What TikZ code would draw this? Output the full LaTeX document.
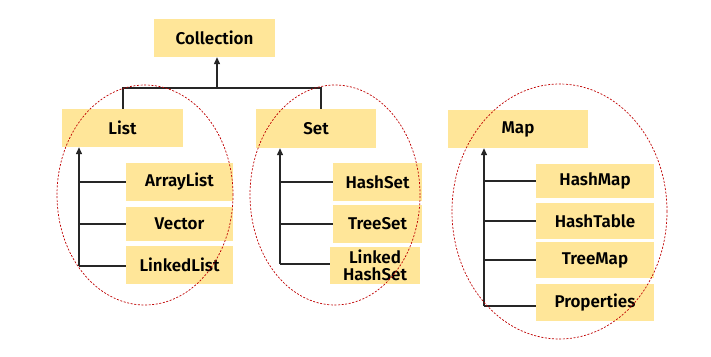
\documentclass[tikz,border=0pt]{standalone}
\usepackage{fontspec}
\setmainfont{Fira Sans}[BoldFont={* SemiBold}]
\usetikzlibrary{arrows.meta}
\definecolor{boxfill}{HTML}{FFE699}
\definecolor{ovalred}{HTML}{C00000}
\begin{document}
\begin{tikzpicture}[x=1pt,y=-1pt,
  box/.style={fill=boxfill,inner sep=0pt,font=\fontsize{17}{18}\selectfont\bfseries,align=center},
  conn/.style={draw=black!85,line width=1.3pt},
  arr/.style={conn,-{Triangle[width=6pt,length=7pt]}},
  oval/.style={draw=ovalred,line width=0.7pt,dash pattern=on 2pt off 1.6pt}]
\useasboundingbox[fill=white] (0,0) rectangle (711,356);
% boxes
\node[box,minimum width=121pt,minimum height=38pt] (col) at (214.5,38) {Collection};
\node[box,minimum width=121pt,minimum height=38pt] (list) at (122.5,128) {List};
\node[box,minimum width=120pt,minimum height=39pt] (set) at (316,128.5) {Set};
\node[box,minimum width=140pt,minimum height=38pt] (map) at (518,129) {Map};
\node[box,minimum width=107pt,minimum height=38pt] (al) at (179.5,182) {ArrayList};
\node[box,minimum width=107pt,minimum height=34pt] (vec) at (179.5,224) {Vector};
\node[box,minimum width=107pt,minimum height=38pt] (ll) at (179.5,265) {LinkedList};
\node[box,minimum width=89pt,minimum height=38pt] (hs) at (377.5,182) {HashSet};
\node[box,minimum width=89pt,minimum height=38pt] (ts) at (377.5,224) {TreeSet};
\node[box,minimum width=90pt,minimum height=37pt,font=\fontsize{17}{17.5}\selectfont\bfseries] (lhs) at (375,265.5) {Linked\\HashSet};
\node[box,minimum width=118pt,minimum height=34pt] (hm) at (595,181) {HashMap};
\node[box,minimum width=118pt,minimum height=36pt] (ht) at (595,221) {HashTable};
\node[box,minimum width=118pt,minimum height=36pt] (tm) at (595,260) {TreeMap};
\node[box,minimum width=118pt,minimum height=37pt] (pr) at (595,302.5) {Properties};
% top tree
\coordinate (cj) at (217,88);
\coordinate (lbar) at (123,88);
\coordinate (rbar) at (321,88);
\draw[arr] (cj) -- (cj |- col.south);
\draw[conn] (list.north -| lbar) -- (lbar) -- (rbar) -- (set.north -| rbar);
% list spine
\coordinate (lb) at (79,266);
\draw[arr] (lb) -- (lb |- list.south);
\draw[conn] (al.west) -- (al.west -| lb);
\draw[conn] (vec.west) -- (vec.west -| lb);
\draw[conn] (ll.west |- lb) -- (lb);
% set spine
\coordinate (sb) at (280,264);
\draw[arr] (sb) -- (sb |- set.south);
\draw[conn] (hs.west) -- (hs.west -| sb);
\draw[conn] (ts.west) -- (ts.west -| sb);
\draw[conn] (lhs.west |- sb) -- (sb);
% map spine
\coordinate (mb) at (484,306);
\draw[arr] (mb) -- (mb |- map.south);
\draw[conn] (hm.west) -- (hm.west -| mb);
\draw[conn] (ht.west) -- (ht.west -| mb);
\draw[conn] (tm.west) -- (tm.west -| mb);
\draw[conn] (pr.west |- mb) -- (mb);
% ovals
\draw[oval] (145,195) ellipse [x radius=88pt,y radius=110pt];
\draw[oval] (335,195) ellipse [x radius=85pt,y radius=110pt];
\draw[oval] (559.5,211.5) ellipse [x radius=107.5pt,y radius=127.5pt];
\end{tikzpicture}
\end{document}
